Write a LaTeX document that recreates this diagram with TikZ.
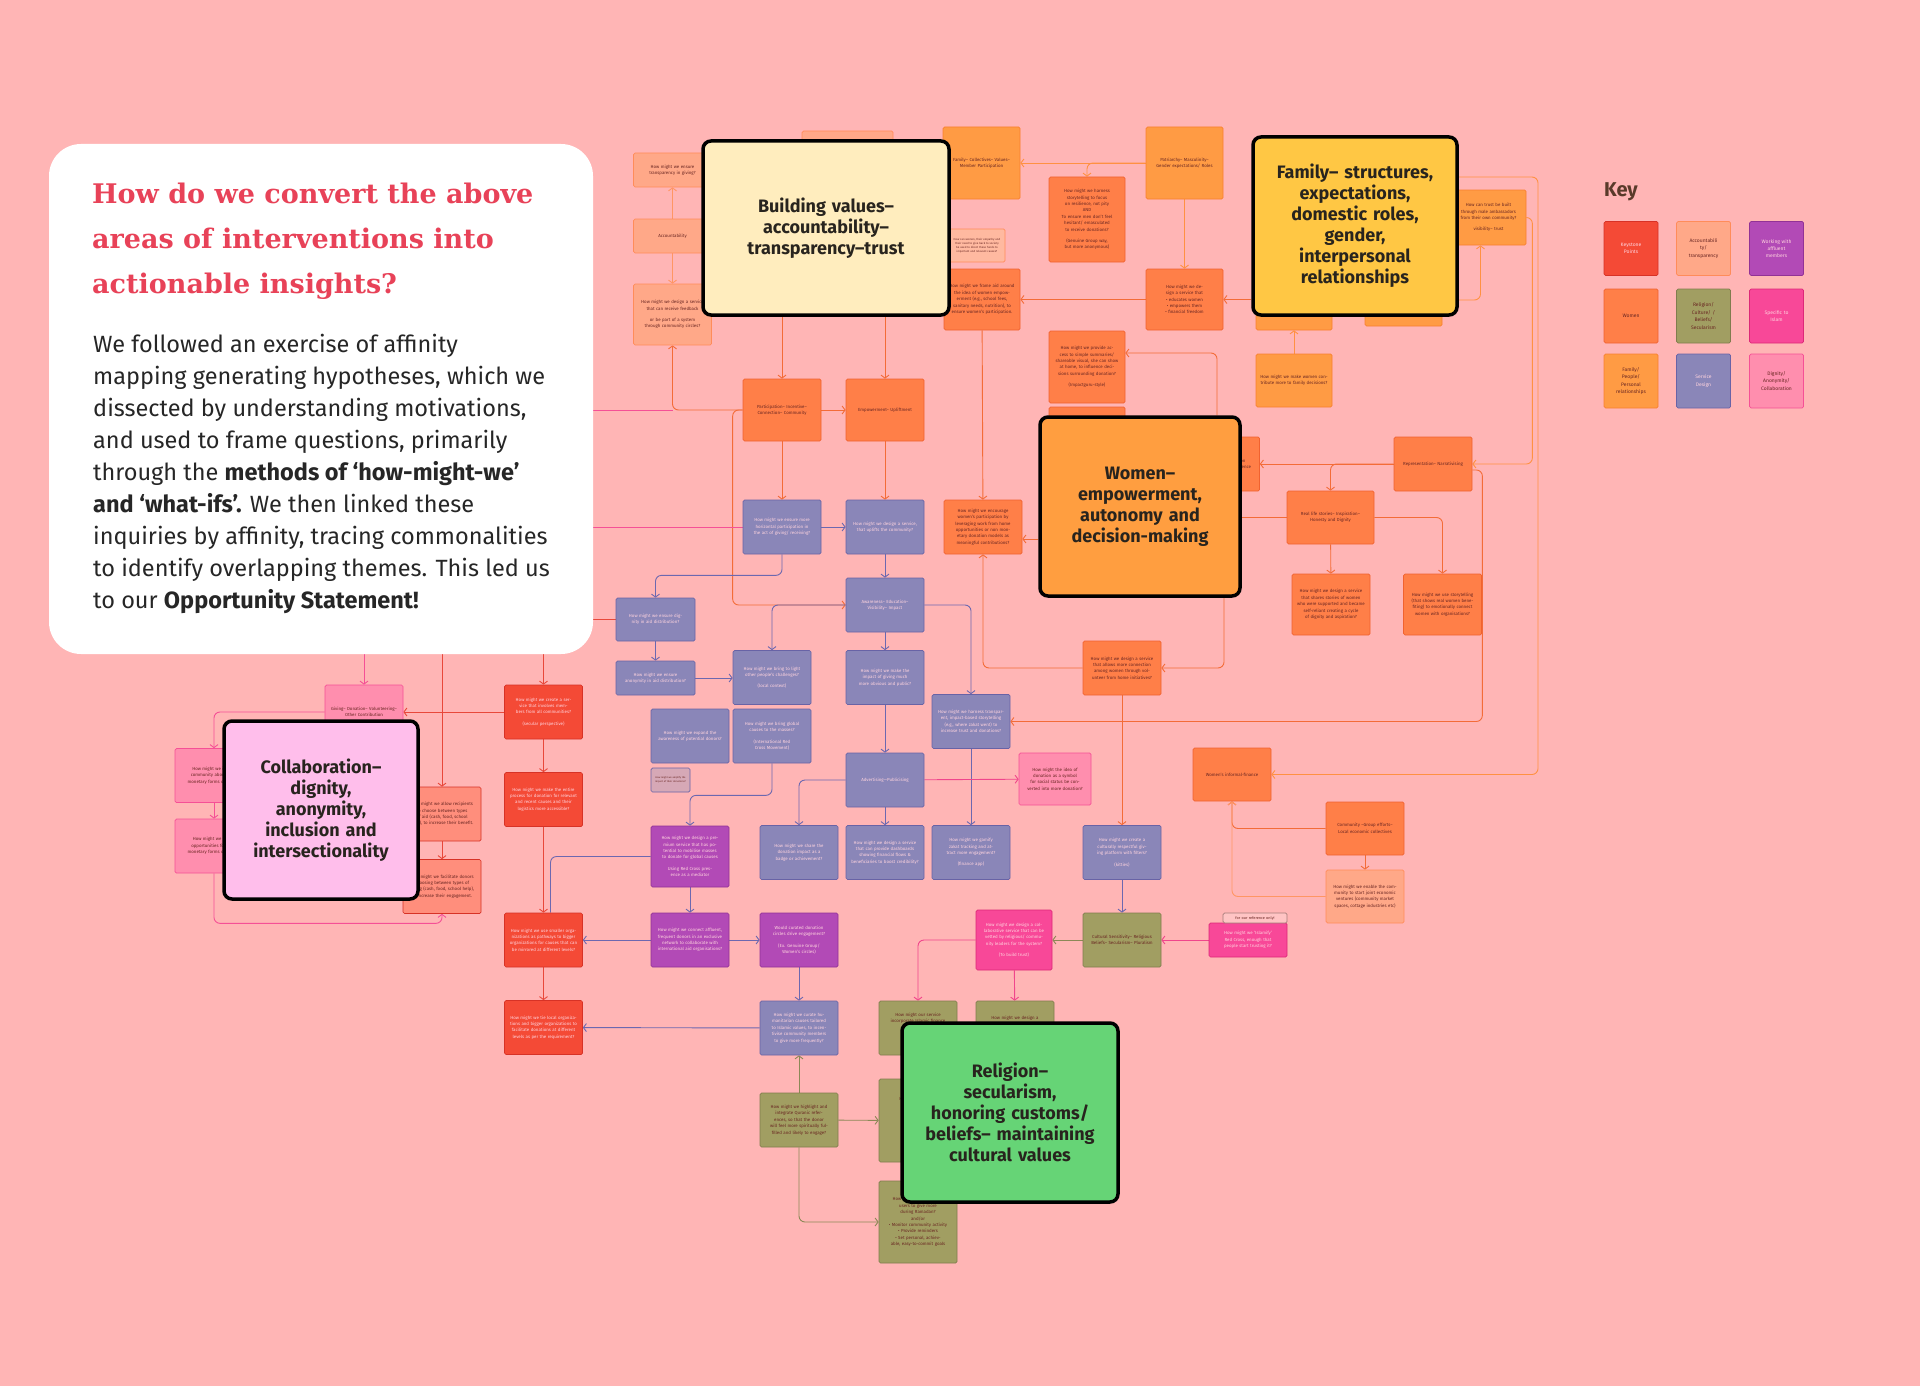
\documentclass[tikz,border=0pt]{standalone}
\usepackage{fontspec}
\setmainfont{Fira Sans}
\newfontfamily\slabfont{DejaVu Serif}
\usetikzlibrary{arrows.meta, positioning}

\definecolor{bgpink}{RGB}{255,181,181}
\definecolor{titlered}{RGB}{232,66,88}
\definecolor{keybrown}{RGB}{90,58,42}
\definecolor{txtlight}{RGB}{255,212,222}
\definecolor{txtdark}{RGB}{105,38,34}
\definecolor{themetxt}{RGB}{40,36,30}
\definecolor{cKey}{RGB}{244,74,54}
\definecolor{cKeyD}{RGB}{215,50,38}
\definecolor{cKeySoft}{RGB}{255,142,124}
\definecolor{cAcc}{RGB}{255,168,136}
\definecolor{cAccD}{RGB}{255,140,90}
\definecolor{cAff}{RGB}{178,74,182}
\definecolor{cAffD}{RGB}{145,50,150}
\definecolor{cWom}{RGB}{255,127,72}
\definecolor{cWomD}{RGB}{240,98,48}
\definecolor{cRel}{RGB}{161,158,98}
\definecolor{cRelD}{RGB}{128,124,78}
\definecolor{cIsl}{RGB}{248,72,152}
\definecolor{cIslD}{RGB}{220,40,120}
\definecolor{cFam}{RGB}{255,155,68}
\definecolor{cFamD}{RGB}{248,128,48}
\definecolor{cSrv}{RGB}{138,134,184}
\definecolor{cSrvD}{RGB}{104,99,166}
\definecolor{cDig}{RGB}{255,142,174}
\definecolor{cDigD}{RGB}{245,80,150}
\definecolor{cTiny}{RGB}{214,168,182}
\definecolor{thBuild}{RGB}{255,237,190}
\definecolor{thFam}{RGB}{255,199,68}
\definecolor{thWom}{RGB}{255,158,64}
\definecolor{thCol}{RGB}{255,190,235}
\definecolor{thRel}{RGB}{102,212,118}
\definecolor{lnOr}{RGB}{243,108,56}
\definecolor{lnFam}{RGB}{255,145,66}
\definecolor{lnAcc}{RGB}{255,150,100}
\definecolor{lnSrv}{RGB}{108,104,176}
\definecolor{lnIsl}{RGB}{240,70,140}
\definecolor{lnRed}{RGB}{232,72,58}
\definecolor{lnRel}{RGB}{140,136,86}

\pgfdeclarelayer{lines}
\pgfsetlayers{lines,main}

\begin{document}
\begin{tikzpicture}[x=1pt, y=-1pt,
    block/.style={rectangle, draw, line width=0.7pt, rounded corners=1.5pt, align=center, inner sep=0pt, text width=68pt, minimum width=78pt, minimum height=54pt, font=\fontsize{4.4}{6.4}\selectfont},
    keyblock/.style={block, fill=cKey, draw=cKeyD, text=txtlight},
    keysoft/.style={block, fill=cKeySoft, draw=cKeyD, text=txtdark},
    accblock/.style={block, fill=cAcc, draw=cAccD, text=txtdark},
    affblock/.style={block, fill=cAff, draw=cAffD, text=txtlight},
    womblock/.style={block, fill=cWom, draw=cWomD, text=txtdark},
    relblock/.style={block, fill=cRel, draw=cRelD, text=txtdark},
    islblock/.style={block, fill=cIsl, draw=cIslD, text=txtlight},
    famblock/.style={block, fill=cFam, draw=cFamD, text=txtdark},
    srvblock/.style={block, fill=cSrv, draw=cSrvD, text=txtlight},
    digblock/.style={block, fill=cDig, draw=cDigD, text=txtdark},
    legend/.style={block, minimum width=54pt, minimum height=54pt, text width=48pt, font=\fontsize{5}{7.4}\selectfont},
    theme/.style={rectangle, draw=black, line width=3.5pt, rounded corners=8pt, align=center, inner sep=0pt, text=themetxt, font=\fontsize{18}{21}\selectfont\bfseries},
    arrow/.style={-{Straight Barb[length=3pt,width=8pt]}, line width=0.9pt, rounded corners=6pt},
    plain/.style={line width=0.9pt, rounded corners=6pt},
    orarrow/.style={arrow, draw=lnOr},
    famarrow/.style={arrow, draw=lnFam},
    accarrow/.style={arrow, draw=lnAcc},
    srvarrow/.style={arrow, draw=lnSrv},
    islarrow/.style={arrow, draw=lnIsl},
    redarrow/.style={arrow, draw=lnRed},
    relarrow/.style={arrow, draw=lnRel},
    digarrow/.style={arrow, draw=cDigD}
]
    \useasboundingbox (0,0) rectangle (1920,1386);
    \begin{pgfonlayer}{lines}
        \fill[bgpink] (0,0) rectangle (1920,1386);
    \end{pgfonlayer}

    % intro card
    \node[rectangle, fill=white, rounded corners=32pt, minimum width=544pt, minimum height=510pt] (card) at (321,399) {};
    \node[anchor=north west, align=left, inner sep=0pt, text=titlered, font={\slabfont\bfseries\fontsize{27}{45}\selectfont}] (cardhead) at (92,183) {How do we convert the above\\areas of interventions into\\actionable insights?};
    \node[anchor=north west, align=left, inner sep=0pt, text=black!85, font={\fontsize{23.5}{32}\selectfont}] (cardbody) at (93,334) {We followed an exercise of affinity\\mapping generating hypotheses, which we\\dissected by understanding motivations,\\and used to frame questions, primarily\\through the \textbf{methods of ‘how-might-we’}\\\textbf{and ‘what-ifs’.} We then linked these\\inquiries by affinity, tracing commonalities\\to identify overlapping themes. This led us\\to our \textbf{Opportunity Statement!}};

    % key
    \node[anchor=west, inner sep=0pt, text=keybrown, font={\fontsize{20}{24}\selectfont\bfseries}] (keyhead) at (1604,192) {Key};
    \node[keyblock, legend] (k-key) at (1631,248.5) {Keystone\\Points};
    \node[accblock, legend] (k-acc) at (1703.5,248.5) {Accountabili\\ty/\\transparency};
    \node[affblock, legend] (k-aff) at (1776.5,248.5) {Working with\\affluent\\members};
    \node[womblock, legend] (k-wom) at (1631,316) {Women};
    \node[relblock, legend] (k-rel) at (1703.5,316) {Religion/\\Culture/ /\\Beliefs/\\Secularism};
    \node[islblock, legend] (k-isl) at (1776.5,316) {Specific to\\Islam};
    \node[famblock, legend] (k-fam) at (1631,381) {Family/\\People/\\Personal\\relationships};
    \node[srvblock, legend] (k-srv) at (1703.5,381) {Service\\Design};
    \node[digblock, legend] (k-dig) at (1776.5,381) {Dignity/\\Anonymity/\\Collaboration};

    % accountability column and building values
    \node[accblock, minimum height=34pt] (a1) at (672.5,170) {How might we ensure transparency in giving?};
    \node[accblock, minimum height=34pt] (a2) at (672.5,236) {Accountability};
    \node[accblock, minimum height=61pt] (a3) at (672.5,314.5) {How might we design a service that can receive feedback\\[5pt]or be part of a system through community circles?};
    \node[accblock, minimum width=91pt, minimum height=44pt] (atop) at (847.5,153) {};
    \node[accblock, fill=cAcc!80, minimum width=56pt, minimum height=33pt, text width=50pt, font=\fontsize{2.8}{4}\selectfont] (asmall) at (977,245.5) {How can women, their empathy and their need to give back to society be used to direct these funds to important and relevant causes?};
    \node[famblock, minimum width=77pt, minimum height=72pt] (f1) at (981.5,163) {Family-- Collectives-- Values-- Member Participation};
    \node[womblock, minimum width=76pt, minimum height=61pt] (w1) at (982,299.5) {How might we frame aid around the idea of women empowerment (e.g., school fees, sanitary needs, nutrition), to ensure women's participation.};
    \node[womblock, minimum height=62pt] (p1) at (782,410) {Participation-- Incentive-- Connection-- Community};
    \node[womblock, minimum height=62pt] (e1) at (885,410) {Empowerment-- Upliftment};

    % service design
    \node[srvblock] (s1) at (782,527) {How might we ensure more horizontal participation in the act of giving/ receiving?};
    \node[srvblock] (s2) at (885,527) {How might we design a service, that uplifts the community?};
    \node[womblock] (w2) at (983,527) {How might we encourage women's participation by leveraging work from home opportunities or non monetary donation models as meaningful contributions?};
    \node[srvblock] (s3) at (885,605) {Awareness-- Education-- Visibility-- Impact};
    \node[srvblock, minimum width=79pt, minimum height=43pt] (s4) at (655.5,619.5) {How might we ensure dignity in aid distribution?};
    \node[srvblock, minimum width=79pt, minimum height=34pt] (s5) at (655.5,678) {How might we ensure anonymity in aid distribution?};
    \node[srvblock] (s6) at (772,677.5) {How might we bring to light other people's challenges?\\[5pt](local context)};
    \node[srvblock] (s7) at (885,677.5) {How might we make the impact of giving much more obvious and public?};
    \node[srvblock] (s8) at (971,721.5) {How might we harness transparent, impact-based storytelling (e.g., where zakat went) to increase trust and donations?};
    \node[srvblock] (s9) at (690,736) {How might we expand the awareness of potential donors?};
    \node[srvblock] (s10) at (772,736) {How might we bring global causes to the masses?\\[5pt](International Red Cross Movement)};
    \node[block, fill=cTiny, draw=cSrvD, text=txtdark, minimum width=39pt, minimum height=24pt, text width=33pt, font=\fontsize{2.5}{3.6}\selectfont] (amplify) at (670.5,780) {How might we amplify the impact of their donations?};
    \node[srvblock] (s11) at (885,780) {Advertising—Publicising};
    \node[digblock, minimum width=72pt, minimum height=52pt, text width=64pt] (pk) at (1055,779) {How might the idea of donation as a symbol for social status be converted into more donation?};
    \node[affblock, minimum height=61pt] (m1) at (690,856.5) {How might we design a premium service that has potential to mobilise masses to donate for global causes\\[5pt]Using Red Cross presence as a mediator};
    \node[srvblock] (s12) at (799,852.5) {How might we share the donation impact as a badge or achievement?};
    \node[srvblock] (s13) at (885,852.5) {How might we design a service that can provide dashboards showing financial flows \& beneficiaries to boost credibility?};
    \node[srvblock] (s14) at (971,852.5) {How might we gamify zakat tracking and attract more engagement?\\[5pt](finance app)};
    \node[affblock] (m2) at (690,940) {How might we connect affluent, frequent donors in an exclusive network to collaborate with international aid organisations?};
    \node[affblock] (m3) at (799,940) {Would curated donation circles drive engagement?\\[5pt](Ex. Genuine Group/ Women's circles)};
    \node[srvblock] (s15) at (799,1028) {How might we curate humanitarian causes tailored to Islamic values, to incentivise community members to give more frequently?};

    % religion
    \node[islblock, minimum width=76pt, minimum height=60pt] (i1) at (1014,940) {How might we design a collaborative service that can be vetted by religious/ community leaders for the system?\\[5pt](To build trust)};
    \node[relblock] (r1) at (918,1028) {How might our service\\incorporate Islamic finance\\expertise and\\guidance for the\\community?};
    \node[relblock] (r2) at (1015,1028) {How might we design a\\service that lets\\religious leaders\\guide giving?};
    \node[relblock] (r3) at (799,1120) {How might we highlight and integrate Quranic references, so that the donor will feel more spiritually fulfilled and likely to engage?};
    \node[relblock, minimum height=83pt] (r4) at (918,1120.5) {How might we use\\spiritual\\experiences,\\religious\\hadiths and\\values?\\[5pt](co-design)};
    \node[relblock, minimum height=82pt] (r5) at (918,1222) {How might we encourage\\users to give more\\during Ramadan?\\and/or\\• Monitor community activity\\• Provide reminders\\• Set personal, achievable, easy-to-commit goals};
    \node[relblock] (r6) at (1122,940) {Cultural Sensitivity-- Religious Beliefs-- Secularism-- Pluralism};
    \node[islblock, minimum height=34pt] (i2) at (1248,940) {How might we ‘Islamify’ Red Cross, enough that people start trusting it?};
    \node[block, fill=bgpink!80!white, draw=txtdark!60, text=txtdark, minimum width=64pt, minimum height=10pt, text width=60pt, font=\fontsize{3.8}{4.5}\selectfont] (refonly) at (1255,918) {for our reference only!};
    \node[srvblock] (s16) at (1122,852.5) {How might we create a culturally respectful giving platform with filters?\\[5pt](kitties)};

    % keystone and dignity
    \node[digblock] (g1) at (364,712) {Giving-- Donation-- Volunteering-- Other Contribution};
    \node[keyblock] (k1) at (543.5,712) {How might we create a service that involves members from all communities?\\[5pt](secular perspective)};
    \node[keyblock] (k2) at (543.5,799.5) {How might we make the entire process for donation for relevant and recent causes and their logistics more accessible?};
    \node[keyblock] (k3) at (543.5,940) {How might we use smaller organizations as pathways to bigger organizations for causes that can be mirrored at different levels?};
    \node[keyblock] (k4) at (543.5,1027.5) {How might we tie local organizations and bigger organizations to facilitate donations at different levels as per the requirement?};
    \node[digblock] (d1) at (214,775.5) {How might we inform community about non-monetary forms of giving?};
    \node[digblock] (d2) at (214,846) {How might we create opportunities for non-monetary forms of giving?};
    \node[keysoft] (d3) at (442,814) {How might we allow recipients to choose between types of aid (cash, food, school help), to increase their benefit.};
    \node[keysoft] (d4) at (442,886.5) {How might we facilitate donors choosing between types of giving (cash, food, school help), to increase their engagement.};

    % family and women
    \node[famblock, minimum width=77pt, minimum height=72pt] (f2) at (1184.5,163) {Patriarchy-- Masculinity-- Gender expectations/ Roles};
    \node[womblock, minimum width=76pt, minimum height=85pt] (w3) at (1087,219.5) {How might we harness storytelling to focus on resilience, not pity\\AND\\To ensure men don't feel hesitant/ emasculated to receive donations?\\[5pt](Genuine Group way, but more anonymous)};
    \node[womblock, minimum width=77pt, minimum height=61pt] (f3) at (1184.5,299.5) {How might we design a service that\\• educates women\\• empowers them\\• financial freedom};
    \node[womblock, minimum width=76pt, minimum height=72pt] (w4) at (1087,367) {How might we provide access to simple summaries/ shareable visual, she can show at home, to influence decisions surrounding donation?\\[5pt](Impactguru-style)};
    \node[womblock, minimum width=76pt, minimum height=33pt] (w4b) at (1087,423.5) {};
    \node[famblock, minimum width=76pt, minimum height=53pt] (f4) at (1294,303.5) {};
    \node[famblock, minimum width=76pt, minimum height=53pt] (f5) at (1294,380.5) {How might we make women contribute more to family decisions?};
    \node[famblock, minimum width=77pt, minimum height=49pt] (f6) at (1403.5,301.5) {};
    \node[famblock, minimum width=75pt, minimum height=55pt] (f7) at (1488.5,217.5) {How can trust be built through male ambassadors from their own community?\\[5pt]visibility-- trust};
    \node[womblock] (w5) at (1220.5,464) {Women-- Voice-- Decision\\Empowerment/ Independence};
    \node[womblock] (w6) at (1433,464) {Representation-- Narrativising};
    \node[womblock, minimum width=87pt, minimum height=53pt] (w7) at (1330.5,517.5) {Real life stories-- Inspiration-- Honesty and Dignity};
    \node[womblock, minimum height=61pt] (w8) at (1331,604.5) {How might we design a service that shares stories of women who were supported and became self-reliant creating a cycle of dignity and aspiration?};
    \node[womblock, minimum height=61pt] (w9) at (1442.5,604.5) {How might we use storytelling (that shows real women benefiting) to emotionally connect women with organisations?};
    \node[womblock] (w10) at (1122,668) {How might we design a service that allows more connection among women through volunteer from home initiatives?};
    \node[womblock, minimum height=53pt] (w11) at (1232,774.5) {Women's informal-finance};
    \node[womblock, minimum height=53pt] (w12) at (1365,828.5) {Community --Group efforts-- Local economic collectives};
    \node[accblock, minimum height=53pt] (a4) at (1365,896.5) {How might we enable the community to start joint economic ventures (community market spaces, cottage industries etc)};

    % themes
    \node[theme, fill=thBuild, minimum width=246pt, minimum height=174pt, text width=230pt] (tb) at (826,228) {Building values–\\accountability–\\transparency–trust};
    \node[theme, fill=thFam, minimum width=204pt, minimum height=178pt, text width=198pt] (tf) at (1355,226) {Family– structures,\\expectations,\\domestic roles,\\gender,\\interpersonal\\relationships};
    \node[theme, fill=thWom, minimum width=200pt, minimum height=179pt, text width=192pt] (tw) at (1140,506.5) {Women–\\empowerment,\\autonomy and\\decision-making};
    \node[theme, fill=thCol, minimum width=194pt, minimum height=178pt, text width=188pt] (tc) at (321,810) {Collaboration–\\dignity,\\anonymity,\\inclusion and\\intersectionality};
    \node[theme, fill=thRel, minimum width=216pt, minimum height=179pt, text width=212pt] (tr) at (1010,1112.5) {Religion–\\secularism,\\honoring customs/\\beliefs– maintaining\\cultural values};

    \begin{pgfonlayer}{lines}
        \draw[accarrow] (a2) -- (a1);
        \draw[accarrow] (a2) -- (a3);
        \draw[orarrow] (p1.west) -| (a3.south);
        \draw[orarrow] (p1.west) -- ++(-10,0) |- (s3.west);
        \draw[orarrow] (p1.north |- tb.south) -- (p1.north);
        \draw[orarrow] (e1.north |- tb.south) -- (e1.north);
        \draw[orarrow] (p1) -- (e1);
        \draw[orarrow] (p1) -- (s1);
        \draw[orarrow] (e1) -- (s2);
        \draw[srvarrow] (s1) -- (s2);
        \draw[srvarrow] (s2) -- (s3);
        \draw[srvarrow] (s1.south) -- ++(0,21) -| (s4.north);
        \draw[srvarrow] (s4) -- (s5);
        \draw[srvarrow] (s5.east) -- (s6.west |- s5.east);
        \draw[srvarrow] (s3.west) -| (s6.north);
        \draw[srvarrow] (s3) -- (s7);
        \draw[srvarrow] (s3.east) -| (s8.north);
        \draw[srvarrow] (s7) -- (s11);
        \draw[srvarrow] (s8) -- (s14);
        \draw[srvarrow] (s11.west) -| (s12.north);
        \draw[srvarrow] (s11) -- (s13);
        \draw[islarrow] (s11) -- (pk);
        \draw[srvarrow] (s10.south) -- ++(0,32) -| (m1.north);
        \draw[srvarrow] (m1) -- (m2);
        \draw[plain, draw=lnSrv] (m1.west) -| ([xshift=7pt]k3.north);
        \draw[srvarrow] (m2) -- (k3);
        \draw[srvarrow] (m2) -- (m3);
        \draw[srvarrow] (m3) -- (s15);
        \draw[srvarrow] (s15) -- (k4);
        \draw[relarrow] (r3) -- (s15);
        \draw[relarrow] (r3) -- (r4);
        \draw[relarrow] (r3.south) |- (r5.west);
        \draw[islarrow] (i1.west) -| (r1.north);
        \draw[islarrow] (i1) -- (r2);
        \draw[relarrow] (r6) -- (i1);
        \draw[islarrow] (i2) -- (r6);
        \draw[srvarrow] (s16) -- (r6);
        \draw[orarrow] (w10) -- (s16);
        \draw[orarrow] ([xshift=84pt]tw.south) |- (w10.east);
        \draw[orarrow] (w10.west) -| (w2.south);
        \draw[orarrow] (w1) -- (w2);
        \draw[orarrow] (tw.west |- 0,539) -- (w2.east |- 0,539);
        \draw[famarrow] (f2) -- (f1);
        \draw[famarrow] (f2.west) -| (w3.north);
        \draw[famarrow] (f2) -- (f3);
        \draw[orarrow] (f3) -- (w1);
        \draw[orarrow] (tf.west |- f3.east) -- (f3.east);
        \draw[famarrow] (f5) -- (f4);
        \draw[famarrow] (tf.east |- 0,300) -| ([xshift=-8pt]f7.south);
        \draw[orarrow] ([xshift=77pt]tw.north) |- (w4.east |- 0,353);
        \coordinate (farright) at (1538,177);
        \draw[famarrow] (tf.east |- farright) -- (farright) |- (w11.east);
        \draw[famarrow] (f7.east) -- ++(6,0) |- (w6.east);
        \draw[orarrow] ([yshift=-6pt]w6.east) -- ++(10,0) |- (s8.east);
        \draw[orarrow] (w6) -- (w5);
        \draw[orarrow] (w6.west) -| (w7.north);
        \draw[plain, draw=lnOr] (tw.east |- w7.west) -- (w7.west);
        \draw[orarrow] (w7) -- (w8);
        \draw[orarrow] (w7.east) -| (w9.north);
        \draw[orarrow] (w12.west) -| (w11.south);
        \draw[accarrow] (a4.west) -| (w11.south);
        \draw[orarrow] (w12) -- (a4);
        \draw[digarrow] (card.south -| g1.north) -- (g1.north);
        \draw[redarrow] (card.south -| d3.north) -- (d3.north);
        \draw[redarrow] (card.south -| k1.north) -- (k1.north);
        \draw[redarrow] (k1) -- (g1);
        \draw[digarrow] (g1.west) -| (d1.north);
        \draw[digarrow] (d1) -- (d2);
        \draw[digarrow] (d2.south) -- ++(0,50) -| (d4.south);
        \draw[redarrow] (d3) -- (d4);
        \draw[redarrow] (k1) -- (k2);
        \draw[redarrow] (k2) -- (k3);
        \draw[redarrow] (k3) -- (k4);
        \draw[plain, draw=cDigD] (card.east |- p1.west) -- (a3.south |- p1.west);
        \draw[plain, draw=cDigD] (card.east |- s1.west) -- (s1.west);
        \draw[plain, draw=lnRed] (card.east |- s4.west) -- (s4.west);
    \end{pgfonlayer}
\end{tikzpicture}
\end{document}
